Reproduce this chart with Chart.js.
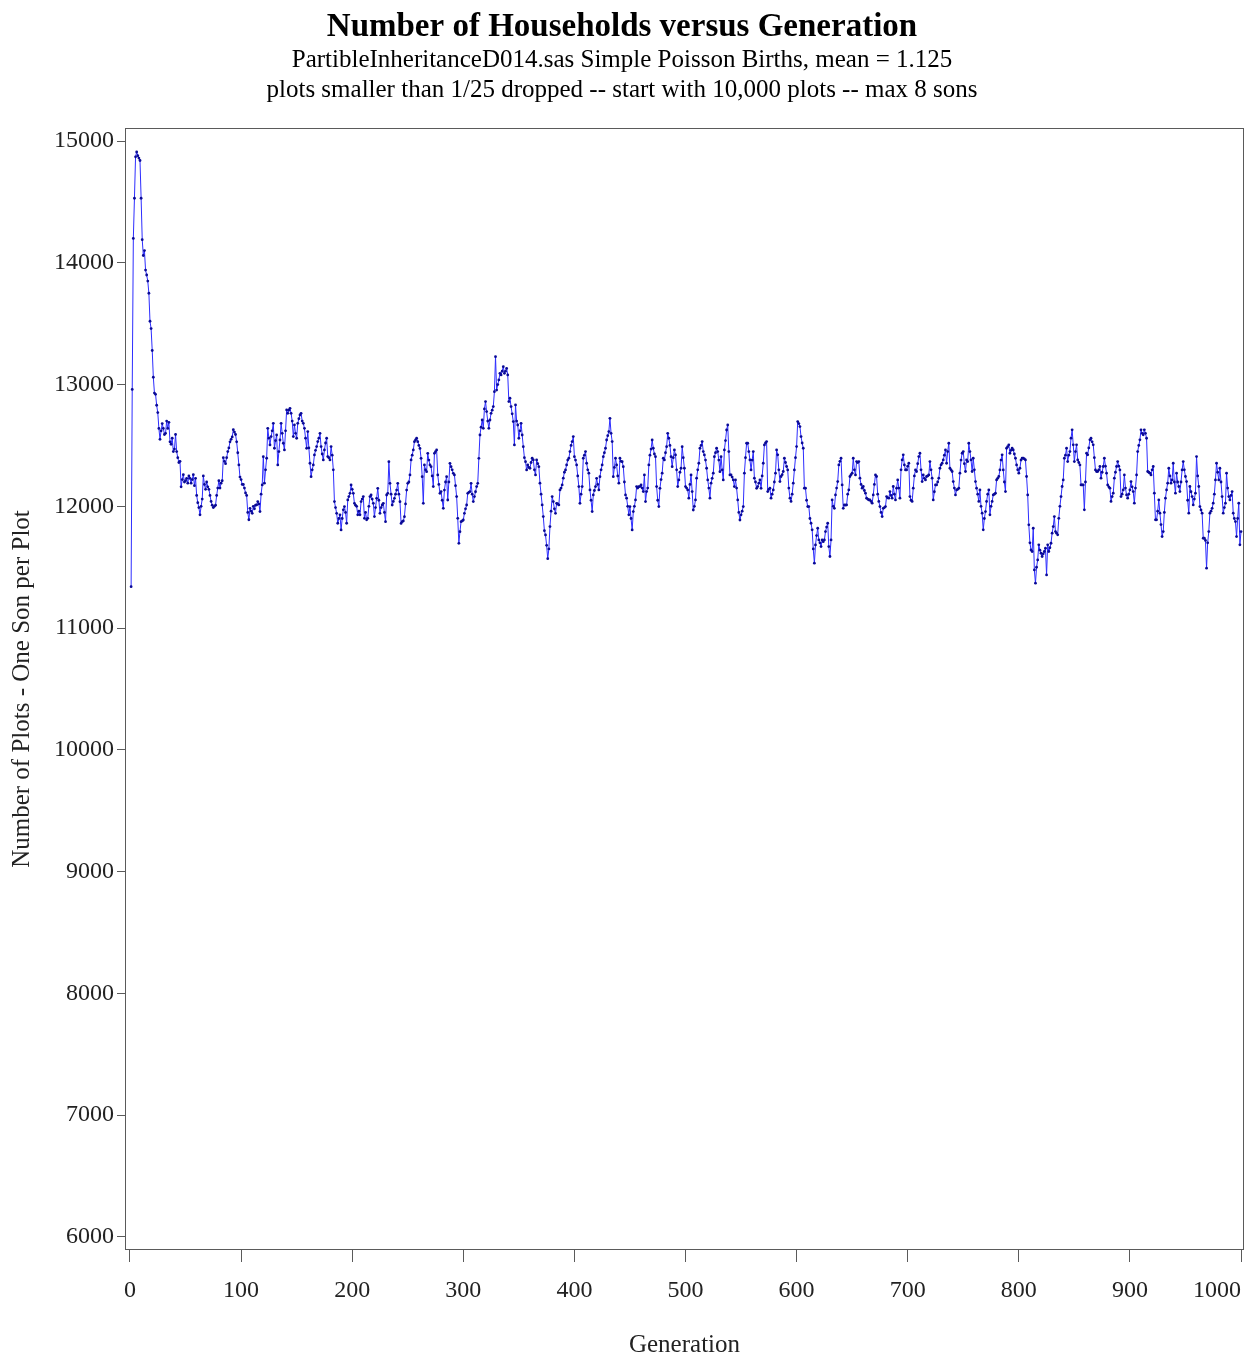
<!DOCTYPE html>
<html>
<head>
<meta charset="utf-8">
<script src="https://cdn.jsdelivr.net/npm/chart.js@4/dist/chart.umd.min.js"></script>
<style>
  html, body { margin: 0; padding: 0; background: #ffffff; }
  canvas { display: block; }
</style>
</head>
<body>
<canvas id="c" width="1258" height="1362"></canvas>
<script>
// ---- data ----
const firstGeneration = 1;
const households = [
11340,12960,14200,14530,14870,14910,14880,14860,14840,14530,
14190,14060,14100,13940,13900,13850,13750,13520,13460,13280,
13060,12930,12920,12830,12770,12640,12550,12620,12680,12640,
12590,12600,12700,12640,12690,12530,12510,12560,12450,12470,
12590,12450,12400,12360,12370,12160,12220,12260,12200,12210,
12230,12190,12250,12230,12190,12220,12260,12170,12230,12090,
12030,11990,11930,12000,12060,12250,12180,12140,12200,12160,
12140,12090,12040,12010,11990,12000,12010,12090,12150,12210,
12150,12190,12210,12400,12370,12350,12400,12450,12480,12530,
12550,12570,12630,12610,12590,12530,12440,12340,12240,12220,
12180,12180,12150,12110,12090,11950,11890,11984,11960,11943,
12000,11980,12010,12012,12039,12020,11957,12100,12176,12408,
12190,12300,12395,12641,12560,12504,12573,12620,12682,12477,
12540,12586,12340,12450,12545,12682,12600,12518,12463,12620,
12792,12764,12790,12805,12764,12700,12573,12669,12600,12559,
12682,12720,12750,12764,12700,12682,12641,12560,12477,12614,
12480,12354,12244,12300,12340,12422,12460,12491,12532,12560,
12600,12491,12430,12381,12463,12520,12559,12409,12400,12381,
12491,12420,12300,12039,11990,11943,11861,11900,11930,11806,
11900,11971,11998,11950,11861,12053,12080,12107,12176,12140,
12107,12025,12010,12000,11930,11960,11930,12039,12060,12080,
11902,11950,11889,11902,12000,12080,12094,12060,12025,11916,
11990,12066,12148,12050,11943,11990,12011,12025,11950,11874,
12093,12107,12367,12189,12100,12011,12040,12066,12100,12134,
12189,12100,12038,11860,11874,11880,11915,12020,12134,12189,
12200,12258,12381,12420,12463,12531,12545,12559,12531,12500,
12476,12394,12244,12025,12340,12300,12285,12435,12380,12340,
12326,12250,12162,12435,12450,12463,12258,12180,12107,12121,
12050,11984,12134,12200,12244,12052,12200,12353,12326,12300,
12271,12258,12170,12080,11902,11696,11792,11874,11880,11888,
11943,11980,12011,12107,12115,12121,12189,12100,12039,12080,
12120,12162,12189,12394,12586,12650,12709,12641,12800,12860,
12778,12700,12641,12709,12764,12790,12819,12942,13229,12955,
13000,13038,13092,13079,13110,13147,13092,13110,13133,13079,
12860,12888,12819,12760,12696,12504,12833,12700,12668,12559,
12620,12682,12586,12490,12400,12367,12299,12340,12320,12313,
12360,12395,12381,12300,12258,12381,12350,12326,12190,12100,
12012,11916,11800,11765,11680,11570,11650,11834,11960,12080,
12039,11980,11943,12025,12020,12012,12135,12150,12176,12231,
12280,12299,12340,12380,12395,12450,12500,12532,12573,12408,
12380,12340,12250,12162,12025,12100,12162,12395,12420,12450,
12354,12300,12272,12135,12050,11957,12094,12130,12162,12230,
12180,12135,12244,12300,12340,12408,12440,12477,12545,12580,
12614,12723,12600,12532,12244,12320,12395,12340,12250,12190,
12395,12370,12367,12326,12200,12094,12067,12000,11930,11998,
11900,11806,11957,12000,12053,12162,12150,12162,12162,12176,
12150,12121,12258,12039,12121,12150,12340,12420,12470,12545,
12477,12430,12408,12162,12050,11998,12148,12220,12272,12395,
12381,12440,12490,12600,12559,12500,12408,12326,12400,12463,
12422,12300,12162,12217,12280,12313,12490,12400,12313,12162,
12150,12135,12067,12180,12258,12121,11970,12000,12053,12231,
12300,12354,12477,12500,12532,12450,12422,12380,12313,12217,
12150,12067,12190,12230,12272,12408,12440,12477,12450,12380,
12285,12408,12300,12217,12463,12540,12627,12668,12450,12258,
12258,12240,12217,12162,12217,12150,12053,11950,11888,11930,
11960,11998,12272,12400,12518,12518,12450,12381,12299,12380,
12450,12231,12200,12148,12162,12190,12217,12148,12250,12354,
12504,12520,12532,12121,12140,12149,12067,12100,12135,12200,
12272,12463,12423,12300,12203,12245,12260,12286,12395,12360,
12327,12299,12150,12067,12040,12100,12190,12299,12400,12491,
12696,12680,12655,12573,12520,12477,12149,12149,12050,11998,
11998,11900,11861,11807,11650,11533,11683,11760,11820,11724,
11700,11670,11724,11710,11724,11793,11830,11861,11670,11588,
11724,12053,12000,11984,12094,12150,12203,12340,12370,12395,
12176,11984,12012,12010,12012,12100,12135,12245,12260,12272,
12395,12300,12258,12368,12360,12368,12231,12180,12149,12163,
12130,12108,12067,12060,12053,12053,12040,12026,12094,12180,
12258,12245,12100,12040,11998,11950,11916,11984,11990,11998,
12080,12070,12067,12121,12090,12067,12163,12100,12053,12149,
12217,12150,12067,12300,12381,12423,12340,12299,12299,12330,
12354,12080,12050,12040,12149,12250,12299,12286,12350,12409,
12436,12300,12203,12258,12230,12217,12245,12250,12258,12368,
12300,12231,12053,12120,12176,12176,12200,12231,12313,12340,
12354,12381,12420,12463,12354,12450,12518,12313,12300,12286,
12203,12150,12094,12135,12140,12149,12272,12380,12436,12450,
12350,12286,12381,12368,12518,12450,12381,12286,12395,12300,
12203,12149,12100,12040,12135,12000,11944,11807,11900,11957,
12040,12100,12135,11930,12000,12040,12094,12100,12108,12217,
12230,12245,12299,12380,12423,12299,12200,12121,12477,12490,
12505,12436,12460,12477,12463,12430,12395,12340,12300,12272,
12313,12380,12395,12395,12390,12381,12245,12094,11848,11700,
11642,11629,11820,11478,11369,11500,11560,11684,11640,11615,
11588,11610,11629,11656,11437,11684,11629,11660,11697,11780,
11834,11916,11793,11780,11766,11902,12000,12080,12163,12217,
12395,12420,12477,12368,12420,12450,12560,12628,12505,12368,
12450,12505,12381,12360,12340,12176,12176,12176,11971,12200,
12436,12423,12480,12546,12559,12530,12505,12400,12299,12286,
12286,12300,12327,12231,12280,12327,12395,12330,12272,12176,
12160,12149,12040,12080,12108,12231,12280,12327,12368,12330,
12299,12080,12100,12135,12258,12150,12094,12067,12100,12135,
12203,12160,12121,12026,12150,12258,12450,12500,12546,12628,
12600,12587,12628,12600,12559,12286,12280,12272,12258,12300,
12327,12108,11889,11889,11960,12053,11944,11850,11752,11793,
11950,12067,12135,12190,12313,12250,12190,12217,12354,12200,
12108,12272,12200,12163,12121,12200,12299,12368,12300,12245,
12203,12050,11944,12163,12120,12080,12012,12060,12108,12409,
12250,12163,11998,11970,11944,11738,11738,11720,11492,11700,
11793,11944,11960,11984,12026,12100,12217,12354,12280,12217,
12313,12200,12080,11944,11990,12026,12272,12150,12080,12053,
12090,12121,11944,11900,11875,11752,11900,12026,11684,11793
];
const xTicks = [0, 100, 200, 300, 400, 500, 600, 700, 800, 900, 1000];
const yTicks = [6000, 7000, 8000, 9000, 10000, 11000, 12000, 13000, 14000, 15000];
const titleText = 'Number of Households versus Generation';
const subtitleLines = [
  'PartibleInheritanceD014.sas Simple Poisson Births, mean = 1.125',
  'plots smaller than 1/25 dropped -- start with 10,000 plots -- max 8 sons'
];
const xTitle = 'Generation';
const yTitle = 'Number of Plots - One Son per Plot';

// ---- chart ----
const SERIF = "'Liberation Serif', 'Times New Roman', 'DejaVu Serif', serif";
const points = households.map((v, i) => ({ x: firstGeneration + i, y: v }));

const framePlugin = {
  id: 'frame',
  beforeDraw(chart) {
    // keep the last x tick label inside the canvas (right-aligned near its tick)
    try {
      const sx = chart.scales.x;
      const items = sx.getLabelItems();
      const last = items[items.length - 1];
      if (last && !last._shifted) {
        last.options.textAlign = 'right';
        last.translation[0] += 4;
        last._shifted = true;
      }
    } catch (e) { /* ignore */ }
  },
  afterDraw(chart) {
    const a = chart.chartArea;
    const ctx = chart.ctx;
    ctx.save();
    ctx.strokeStyle = '#5a5a5a';
    ctx.lineWidth = 1;
    ctx.strokeRect(Math.round(a.left) + 0.5, Math.round(a.top) + 0.5,
                   Math.round(a.right - a.left) - 1, Math.round(a.bottom - a.top) - 1);
    ctx.restore();
  }
};

new Chart(document.getElementById('c'), {
  type: 'line',
  data: {
    datasets: [{
      data: points,
      borderColor: 'rgb(45,45,255)',
      borderWidth: 1,
      pointRadius: 1.4,
      pointBorderWidth: 0,
      pointBackgroundColor: 'rgb(10,10,150)',
      tension: 0,
      fill: false
    }]
  },
  options: {
    responsive: false,
    animation: false,
    devicePixelRatio: 1,
    layout: { autoPadding: false, padding: { left: 0, right: 14, top: 0, bottom: 0 } },
    plugins: {
      legend: { display: false },
      tooltip: { enabled: false },
      title: {
        display: true,
        text: titleText,
        color: '#000',
        font: { family: SERIF, size: 33, weight: 'bold', lineHeight: 1.1 },
        padding: { top: 9, bottom: 0 }
      },
      subtitle: {
        display: true,
        text: subtitleLines,
        color: '#000',
        font: { family: SERIF, size: 25, weight: 'normal', lineHeight: 1.2 },
        padding: { top: 0, bottom: 22.7 }
      }
    },
    scales: {
      x: {
        type: 'linear',
        position: 'bottom',
        min: -4.5,
        max: 1002.7,
        afterBuildTicks: s => { s.ticks = xTicks.map(v => ({ value: v })); },
        afterFit: s => { s.height = 112; s.paddingLeft = 0; s.paddingRight = 0; },
        ticks: {
          color: '#222',
          font: { family: SERIF, size: 24 },
          padding: 14,
          maxRotation: 0,
          autoSkip: false,
          callback: v => String(v)
        },
        grid: { display: true, drawOnChartArea: false, drawTicks: true, tickLength: 12, color: '#5a5a5a' },
        border: { display: false },
        title: {
          display: true,
          text: xTitle,
          color: '#222',
          font: { family: SERIF, size: 25, lineHeight: 1.2 },
          padding: { top: 0, bottom: 2 }
        }
      },
      y: {
        type: 'linear',
        position: 'left',
        min: 5893,
        max: 15107,
        afterBuildTicks: s => { s.ticks = yTicks.map(v => ({ value: v })); },
        afterFit: s => { s.width = 125; s.paddingTop = 0; s.paddingBottom = 0; },
        ticks: {
          color: '#222',
          font: { family: SERIF, size: 24 },
          padding: 3,
          autoSkip: false,
          callback: v => String(v)
        },
        grid: { display: true, drawOnChartArea: false, drawTicks: true, tickLength: 8, color: '#5a5a5a' },
        border: { display: false },
        title: {
          display: true,
          text: yTitle,
          color: '#222',
          font: { family: SERIF, size: 25, lineHeight: 1.2 },
          padding: { top: 7, bottom: 0 }
        }
      }
    }
  },
  plugins: [framePlugin]
});
</script>
</body>
</html>
